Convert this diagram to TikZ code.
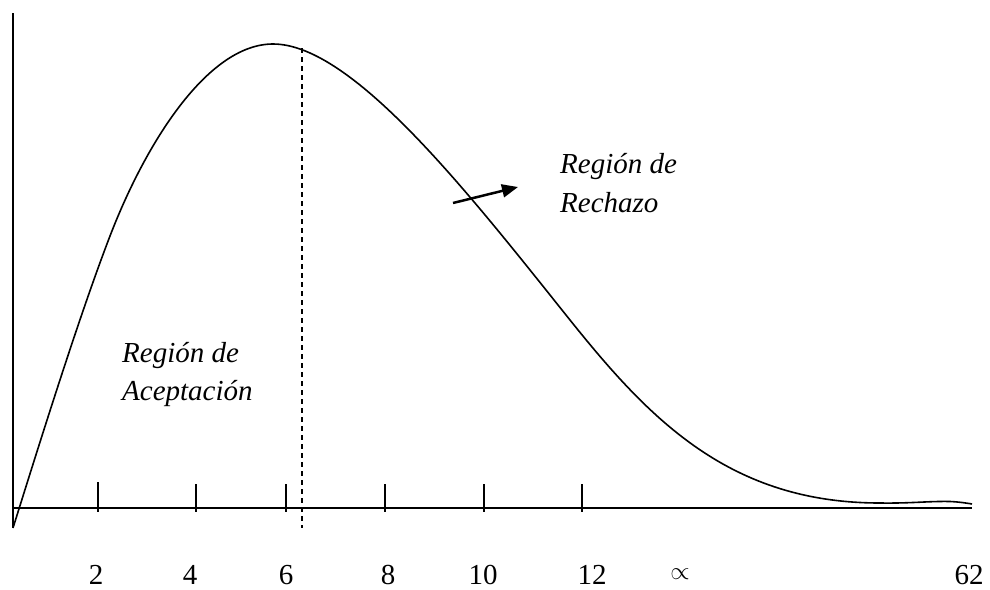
\documentclass[tikz,border=0pt]{standalone}
\usepackage{fontspec}
\setmainfont{Liberation Serif}
\usetikzlibrary{arrows.meta}
\begin{document}
\begin{tikzpicture}[x=1pt,y=-1pt,
  axis/.style={line width=2pt},
  tickmark/.style={line width=1.8pt},
  curve/.style={line width=1.6pt},
  critical/.style={line width=1.5pt, dash pattern=on 5pt off 4pt},
  pointer/.style={line width=2.5pt, -{Triangle[length=16pt,width=13pt]}},
  lbl/.style={font=\fontsize{29}{38}\selectfont\itshape, anchor=base west, inner sep=0pt},
  num/.style={font=\fontsize{29}{38}\selectfont, anchor=base, inner sep=0pt}
]
\useasboundingbox (0,0) rectangle (990,589);
% axes
\coordinate (ytop) at (13,13);
\coordinate (ybot) at (13,528);
\coordinate (xl) at (12,508);
\coordinate (xr) at (972,508);
\draw[axis] (ytop) -- (ybot);
\draw[axis] (xl) -- (xr);
% ticks
\foreach \x/\t in {98/482,196/484,286/484,385/484,484/484,582/484}
  \draw[tickmark] (\x,\t) -- (\x,512);
% critical value line
\coordinate (ctop) at (302,48);
\coordinate (cbot) at (302,528);
\draw[critical] (ctop) -- (cbot);
% density curve
\draw[curve] (13,528)
  .. controls (43,432) and (80,314) .. (110,236)
  .. controls (146,142.4) and (208,44) .. (273,44)
  .. controls (353,44) and (470,195) .. (570,320)
  .. controls (650,420) and (730,503) .. (880,503)
  .. controls (910,503.5) and (930,501) .. (950,501.5)
  .. controls (960,502) and (966,503) .. (972,504);
% arrow
\coordinate (arrS) at (453,203);
\coordinate (arrE) at (518,187);
\draw[pointer] (arrS) -- (arrE);
% labels
\node[lbl] (rej1) at (560,173) {Región de};
\node[lbl] (rej2) at (560,212) {Rechazo};
\node[lbl] (acc1) at (122,362) {Región de};
\node[lbl] (acc2) at (122,400) {Aceptación};
% numbers
\node[num] (n2) at (96,584) {2};
\node[num] (n4) at (190,584) {4};
\node[num] (n6) at (286,584) {6};
\node[num] (n8) at (388,584) {8};
\node[num] (n10) at (483,584) {10};
\node[num] (n12) at (592,584) {12};
\node[font=\fontsize{23}{23}\selectfont, inner sep=0pt] (prop) at (680,574) {$\propto$};
\node[num] (n62) at (969,584) {62};
\end{tikzpicture}
\end{document}
